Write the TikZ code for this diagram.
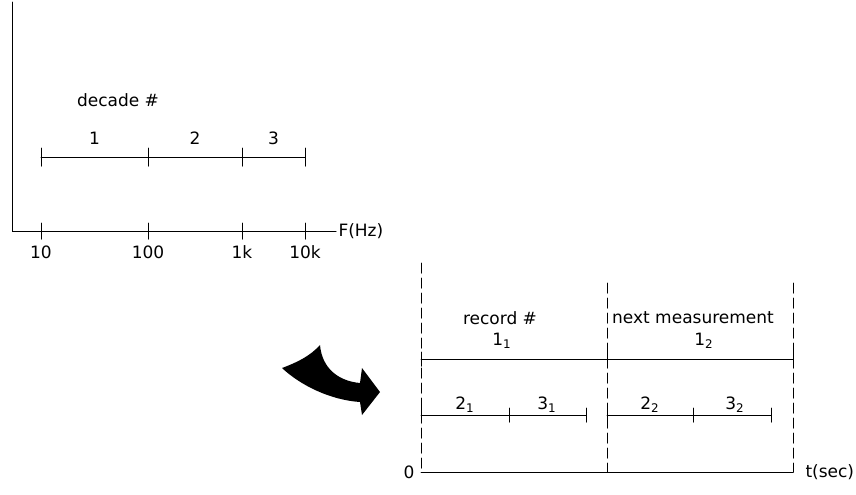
\documentclass[tikz,border=0pt]{standalone}
\usepackage{fontspec}
\setmainfont{DejaVu Sans}
\begin{document}
\begin{tikzpicture}[x=0.5pt, y=-0.5pt, line width=0.5pt, line cap=round, font=\fontsize{8.5}{10}\selectfont]
	\tikzset{part/.style={dash pattern=on 5pt off 2.5pt},
		lbl/.style={inner sep=1pt}}
	\useasboundingbox (0,0) rectangle (856,494);
	% frequency axis
	\path (12,2) coordinate (Ytop)
	(12,231) coordinate (O)
	(336,231) coordinate (Xend)
	(41,157) coordinate (D0)
	(148,157) coordinate (D1)
	(242,157) coordinate (D2)
	(305,157) coordinate (D3)
	;
	\draw (Ytop) -- (O) -- (Xend) node[right,lbl] (fhz) {F(Hz)};
	\foreach \x/\f in {41/10,148/100,242/1k,305/10k}
	\draw (\x,223) -- (\x,239) node[below=2pt,lbl] (f\f) {\f};
	\draw (D0) -- (D3);
	\foreach \p in {D0,D1,D2,D3}
	\draw (\p) ++(0,-9) -- ++(0,18);
	\path (D0) -- (D1) node[midway,above=5pt,lbl] (dec1) {1};
	\path (D1) -- (D2) node[midway,above=5pt,lbl] (dec2) {2};
	\path (D2) -- (D3) node[midway,above=5pt,lbl] (dec3) {3};
	\node[lbl] (decade) at (118,100) {decade \#};
	% curved arrow
	\fill (282,368) .. controls (298,362) and (310,356) .. (320,345)
	.. controls (322,368) and (338,381) .. (360,383)
	-- (362,368) -- (380,392) -- (362,415) -- (360,402)
	.. controls (330,400) and (300,385) .. (282,368) -- cycle;
	% time axis
	\path (421,263) coordinate (Ltop)
	(607,283) coordinate (Mtop)
	(793,283) coordinate (Rtop)
	(421,472) coordinate (T0)
	(607,472) coordinate (TM)
	(793,472) coordinate (T1)
	(421,359) coordinate (A0)
	(607,359) coordinate (A1)
	(793,359) coordinate (A2)
	(421,415) coordinate (B0)
	(509,415) coordinate (B1)
	(586,415) coordinate (B2)
	(607,415) coordinate (C0)
	(693,415) coordinate (C1)
	(771,415) coordinate (C2)
	;
	\draw[part] (Ltop) -- (T0);
	\draw[part] (Mtop) -- (TM);
	\draw[part] (Rtop) -- (T1);
	\draw (T0) -- (T1) node[right=5pt,lbl] (tsec) {t(sec)};
	\node[left=2pt,lbl] (zero) at (T0) {0};
	\draw (A0) -- (A2);
	\draw (B0) -- (B2);
	\draw (C0) -- (C2);
	\foreach \p in {A0,A1,A2,B0,B1,B2,C0,C1,C2}
	\draw (\p) ++(0,-7) -- ++(0,14);
	\node[lbl] (rec) at (500,318) {record \#};
	\node[lbl] (next) at (693,318) {next measurement};
	\foreach \n/\t/\s/\x/\y in {a/1/1/502/341,b/1/2/704/341,c/2/1/465/405,d/3/1/547/405,e/2/2/650/405,f/3/2/735/405}
	\node[lbl] (r\n) at (\x,\y) {\t\textsubscript{\s}};
\end{tikzpicture}
\end{document}
